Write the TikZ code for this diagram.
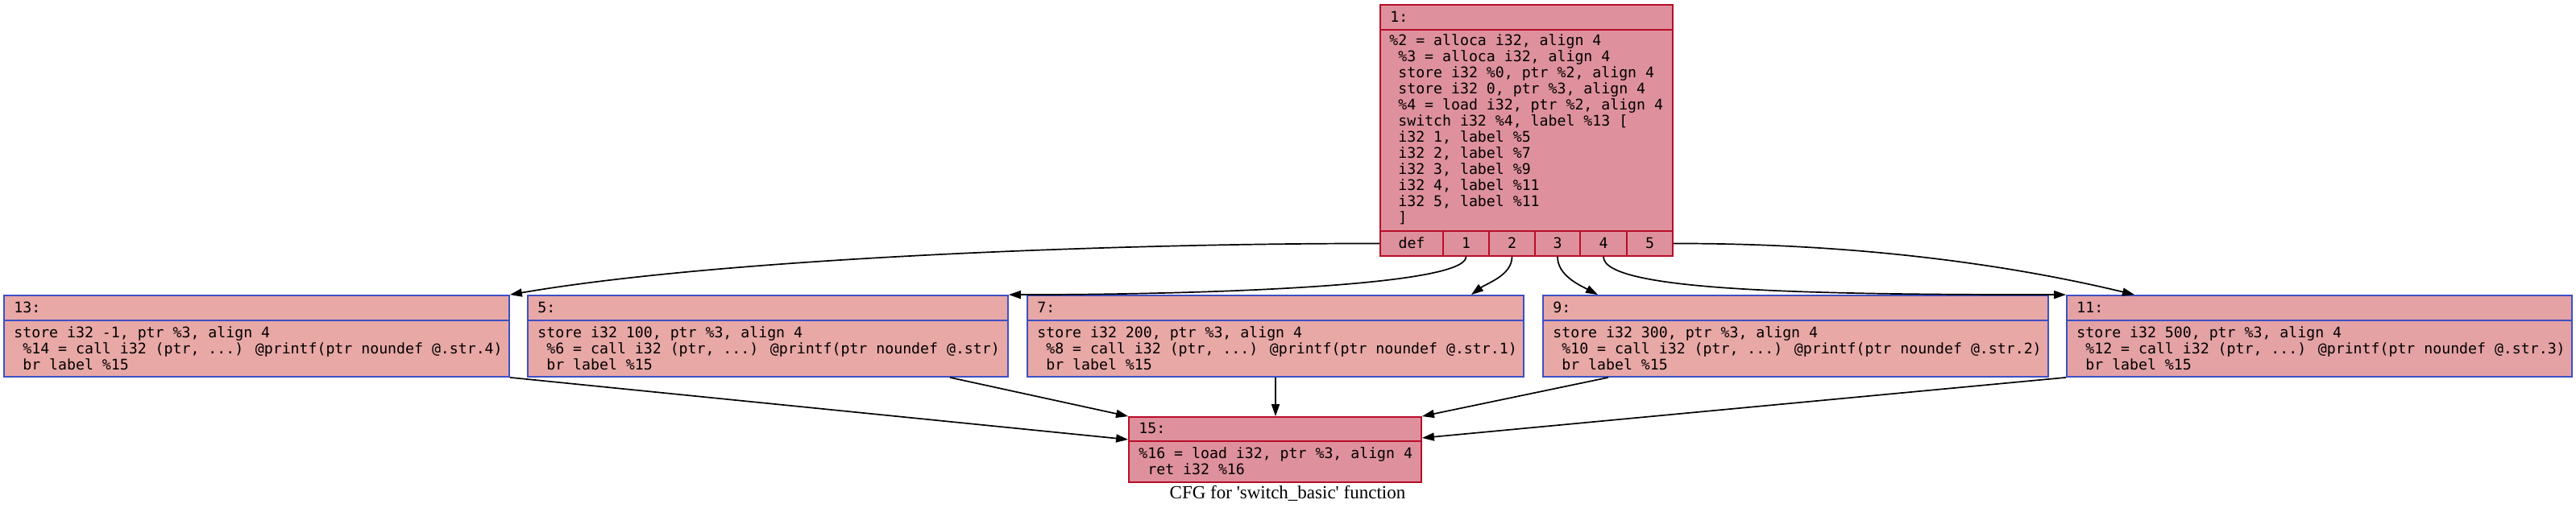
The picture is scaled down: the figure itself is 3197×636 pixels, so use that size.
\documentclass[tikz,border=0pt]{standalone}
\usepackage{fontspec}
\usetikzlibrary{arrows.meta}
\newfontfamily\codefont{DejaVu Sans Mono}
\newfontfamily\capfont{Liberation Serif}[Ligatures=TeXOff]
\definecolor{redfill}{RGB}{222,145,157}
\definecolor{redline}{RGB}{183,13,40}
\definecolor{rowfill}{RGB}{232,168,166}
\definecolor{rowfillb}{RGB}{228,162,165}
\definecolor{blueline}{RGB}{61,80,195}
\tikzset{
  redbox/.style={draw=redline, fill=redfill, line width=0.9pt, inner sep=0, rectangle},
  bluebox/.style={draw=blueline, fill=rowfill, line width=0.9pt, inner sep=0, rectangle,
                  minimum height=50.5pt},
  code/.style={font=\codefont\fontsize{9.1}{10}\selectfont, inner sep=0, anchor=base west},
  portlbl/.style={font=\codefont\fontsize{9.1}{10}\selectfont, inner sep=0, anchor=base},
  edge/.style={line width=0.85pt, -{Triangle[length=7.5pt,width=5pt]}},
  plain/.style={line width=0.85pt}
}
\begin{document}
\begin{tikzpicture}[x=0.5pt,y=-0.5pt]
\useasboundingbox (0,0) rectangle (3197,636);

% ---- block 1 ----
\node[redbox, minimum width=181.5pt, minimum height=156pt] (n1) at (1894.5,162) {};
\draw[redline, line width=0.9pt] (n1.west |- 0,37) -- (n1.east |- 0,37);
\draw[redline, line width=0.9pt] (n1.west |- 0,287) -- (n1.east |- 0,287);
\node[redbox, minimum width=39pt, minimum height=15.5pt] (pdef) at (1752,302.5) {};
\node[redbox, minimum width=28.5pt, minimum height=15.5pt] (p1) at (1819.5,302.5) {};
\node[redbox, minimum width=28.5pt, minimum height=15.5pt] (p2) at (1876.5,302.5) {};
\node[redbox, minimum width=28pt, minimum height=15.5pt] (p3) at (1933,302.5) {};
\node[redbox, minimum width=29pt, minimum height=15.5pt] (p4) at (1990,302.5) {};
\node[redbox, minimum width=28.5pt, minimum height=15.5pt] (p5) at (2047.5,302.5) {};
\node[portlbl] (ldef) at (1752,308) {def};
\node[portlbl] (l1) at (1819.5,308) {1};
\node[portlbl] (l2) at (1876.5,308) {2};
\node[portlbl] (l3) at (1933,308) {3};
\node[portlbl] (l4) at (1990,308) {4};
\node[portlbl] (l5) at (2047.5,308) {5};
\node[code] (h1) at (1725,27.6) {1:};
\foreach \t [count=\i from 0] in {
  {\%2 = alloca i32, align 4},
  {\ \%3 = alloca i32, align 4},
  {\ store i32 \%0, ptr \%2, align 4},
  {\ store i32 0, ptr \%3, align 4},
  {\ \%4 = load i32, ptr \%2, align 4},
  {\ switch i32 \%4, label \%13 [},
  {\ i32 1, label \%5},
  {\ i32 2, label \%7},
  {\ i32 3, label \%9},
  {\ i32 4, label \%11},
  {\ i32 5, label \%11},
  {\ ]}}
  \node[code] (t1-\i) at (1724,56.6+20*\i) {\t};

% ---- row blocks ----
\node[bluebox, minimum width=313.5pt] (n13) at (318.5,417.5) {};
\node[bluebox, minimum width=298pt] (n5) at (953,417.5) {};
\node[bluebox, minimum width=308pt] (n7) at (1583,417.5) {};
\node[bluebox, minimum width=313.5pt] (n9) at (2228.5,417.5) {};
\node[bluebox, fill=rowfillb, minimum width=313.5pt] (n11) at (2878.5,417.5) {};
\foreach \n in {n13,n5,n7,n9,n11}
  \draw[blueline, line width=0.9pt] (\n.west |- 0,398) -- (\n.east |- 0,398);

\node[code] (h13) at (17,388.6) {13:};
\node[code] (a13) at (17,419.6) {store i32 -1, ptr \%3, align 4};
\node[code] (b13) at (17,439.6) {\ \%14 = call i32 (ptr, ...) @printf(ptr noundef @.str.4)};
\node[code] (c13) at (17,459.6) {\ br label \%15};

\node[code] (h5) at (667,388.6) {5:};
\node[code] (a5) at (667,419.6) {store i32 100, ptr \%3, align 4};
\node[code] (b5) at (667,439.6) {\ \%6 = call i32 (ptr, ...) @printf(ptr noundef @.str)};
\node[code] (c5) at (667,459.6) {\ br label \%15};

\node[code] (h7) at (1287,388.6) {7:};
\node[code] (a7) at (1287,419.6) {store i32 200, ptr \%3, align 4};
\node[code] (b7) at (1287,439.6) {\ \%8 = call i32 (ptr, ...) @printf(ptr noundef @.str.1)};
\node[code] (c7) at (1287,459.6) {\ br label \%15};

\node[code] (h9) at (1927,388.6) {9:};
\node[code] (a9) at (1927,419.6) {store i32 300, ptr \%3, align 4};
\node[code] (b9) at (1927,439.6) {\ \%10 = call i32 (ptr, ...) @printf(ptr noundef @.str.2)};
\node[code] (c9) at (1927,459.6) {\ br label \%15};

\node[code] (h11) at (2577,388.6) {11:};
\node[code] (a11) at (2577,419.6) {store i32 500, ptr \%3, align 4};
\node[code] (b11) at (2577,439.6) {\ \%12 = call i32 (ptr, ...) @printf(ptr noundef @.str.3)};
\node[code] (c11) at (2577,459.6) {\ br label \%15};

% ---- block 15 ----
\node[redbox, minimum width=181.5pt, minimum height=40.5pt] (n15) at (1582.5,558.5) {};
\draw[redline, line width=0.9pt] (n15.west |- 0,548) -- (n15.east |- 0,548);
\node[code] (h15) at (1413,538.6) {15:};
\node[code] (a15) at (1413,569.6) {\%16 = load i32, ptr \%3, align 4};
\node[code] (b15) at (1413,589.6) {\ ret i32 \%16};

% ---- caption ----
\node[font=\capfont\fontsize{11.5}{13}\selectfont, inner sep=0] (cap) at (1598,613) {CFG for 'switch\_basic' function};

% ---- edges from block 1 ----
\draw[edge] (pdef.west) .. controls (1400,302) and (900,320) .. (n13.north east);
\draw[edge] (p1.south) .. controls (1819.5,355) and (1500,366) .. (n5.north east);
\draw[edge] (p2.south) .. controls (1876.5,342) and (1845,352) .. (1826,0 |- n7.north);
\draw[edge] (p3.south) .. controls (1933,342) and (1960,354) .. (1983,0 |- n9.north);
\draw[edge] (p4.south) .. controls (1990,362) and (2250,366) .. (n11.north west);
\draw[edge] (p5.east) .. controls (2330,302) and (2520,335) .. (2649,0 |- n11.north);

% ---- edges into block 15 ----
\draw[edge] (n13.south east) -- (n15.west |- 0,546);
\draw[edge] (1179,0 |- n5.south) -- (n15.north west);
\draw[edge] (n7.south) -- (n7.south |- n15.north);
\draw[edge] (1996,0 |- n9.south) -- (n15.north east);
\draw[edge] (n11.south west) -- (n15.east |- 0,544);
\end{tikzpicture}
\end{document}
